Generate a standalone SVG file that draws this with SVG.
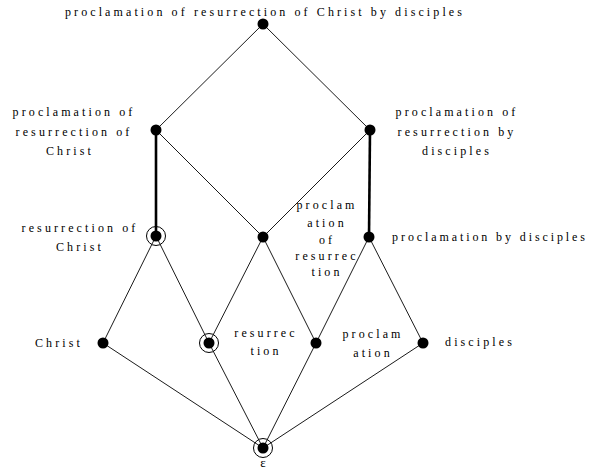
<svg xmlns="http://www.w3.org/2000/svg" width="592" height="469" viewBox="0 0 592 469">
<style>
text{font-family:"Liberation Serif","Times New Roman",serif;font-size:12px;letter-spacing:3.1px;fill:#000;text-anchor:middle}
.e{stroke:#000;stroke-width:0.9;fill:none}
.b{stroke:#000;stroke-width:2.6;fill:none}
.d{fill:#000}
.r{fill:none;stroke:#000;stroke-width:1}
</style>
<rect width="592" height="469" fill="#fff"/>
<g id="connectors">
<line class="e" x1="263" y1="24" x2="156" y2="130"/>
<line class="e" x1="263" y1="24" x2="370" y2="130"/>
<line class="b" x1="156" y1="130" x2="156" y2="236"/>
<line class="e" x1="156" y1="130" x2="263" y2="237"/>
<line class="e" x1="370" y1="130" x2="263" y2="237"/>
<line class="b" x1="370" y1="130" x2="369" y2="237"/>
<line class="e" x1="156" y1="236" x2="103" y2="343"/>
<line class="e" x1="156" y1="236" x2="209" y2="343"/>
<line class="e" x1="263" y1="237" x2="209" y2="343"/>
<line class="e" x1="263" y1="237" x2="316" y2="343"/>
<line class="e" x1="369" y1="237" x2="316" y2="343"/>
<line class="e" x1="369" y1="237" x2="423" y2="343"/>
<line class="e" x1="103" y1="343" x2="263" y2="448"/>
<line class="e" x1="209" y1="343" x2="263" y2="448"/>
<line class="e" x1="316" y1="343" x2="263" y2="448"/>
<line class="e" x1="423" y1="343" x2="263" y2="448"/>
</g>
<g id="n-top"><circle class="d" cx="263" cy="24" r="5.5"/><text x="265" y="16">proclamation of resurrection of Christ by disciples</text></g>
<g id="n-poc"><circle class="d" cx="156" cy="130" r="5.5"/><text x="74" y="116">proclamation of</text><text x="74" y="136">resurrection of</text><text x="70" y="155">Christ</text></g>
<g id="n-prd"><circle class="d" cx="370" cy="130" r="5.5"/><text x="457" y="116">proclamation of</text><text x="457" y="136">resurrection by</text><text x="457" y="155">disciples</text></g>
<g id="n-roc"><circle class="r" cx="156" cy="236" r="9.5"/><circle class="d" cx="156" cy="236" r="5.5"/><text x="80" y="232">resurrection of</text><text x="80" y="251">Christ</text></g>
<g id="n-por"><circle class="d" cx="263" cy="237" r="5.5"/><text x="327" y="209">proclam</text><text x="327" y="227">ation</text><text x="327" y="244">of</text><text x="327" y="260">resurrec</text><text x="327" y="276">tion</text></g>
<g id="n-pbd"><circle class="d" cx="369" cy="237" r="5.5"/><text x="490" y="241" style="letter-spacing:2.9px">proclamation by disciples</text></g>
<g id="n-christ"><circle class="d" cx="103" cy="343" r="5.5"/><text x="59" y="347">Christ</text></g>
<g id="n-res"><circle class="r" cx="209" cy="343" r="9.5"/><circle class="d" cx="209" cy="343" r="5.5"/><text x="266" y="337">resurrec</text><text x="266" y="355">tion</text></g>
<g id="n-proc"><circle class="d" cx="316" cy="343" r="5.5"/><text x="373" y="338">proclam</text><text x="373" y="357">ation</text></g>
<g id="n-disc"><circle class="d" cx="423" cy="343" r="5.5"/><text x="480" y="346">disciples</text></g>
<g id="n-eps"><circle class="r" cx="263" cy="448" r="9.5"/><circle class="d" cx="263" cy="448" r="5.5"/><text x="263" y="467" style="letter-spacing:0;font-size:13px">ε</text></g>
</svg>
